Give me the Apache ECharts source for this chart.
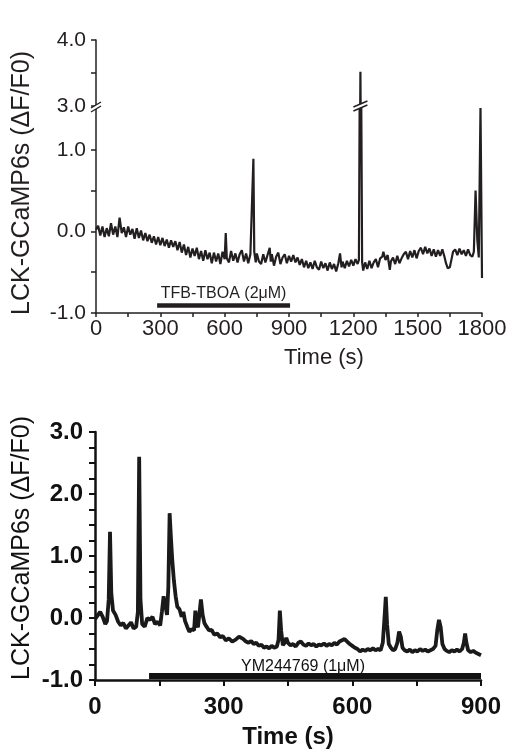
<!DOCTYPE html>
<html>
<head>
<meta charset="utf-8">
<script src="https://cdn.jsdelivr.net/npm/echarts@6.0.0/dist/echarts.min.js"></script>
<style>
html,body{margin:0;padding:0;background:#fff;}
#chart{width:516px;height:754px;}
</style>
</head>
<body>
<div id="chart"></div>
<script>
// ---------- Panel A (TFB-TBOA) ----------
const topTime = [0,10,20,30,40,50,60,70,80,90,100,110,120,130,140,150,160,170,180,190,
200,210,220,230,240,250,260,270,280,290,300,310,320,330,340,350,360,370,380,390,
400,410,420,430,440,450,460,470,480,490,500,510,520,530,540,550,560,570,580,590,
600,605,610,620,630,640,650,660,670,680,690,700,710,720,728,734,738,745,750,760,
770,780,790,800,810,815,820,830,840,850,860,870,880,890,900,910,920,930,940,950,
960,970,980,990,1000,1010,1020,1030,1040,1050,1060,1070,1080,1090,1100,1110,1120,1130,1138,1145,
1150,1160,1170,1180,1190,1200,1210,1220,1226,1233,1241,1246,1255,1265,1275,1285,1295,1305,1315,1325,
1335,1340,1350,1360,1370,1375,1385,1395,1405,1415,1425,1435,1445,1455,1465,1475,1485,1495,1505,1515,
1525,1535,1545,1555,1565,1575,1585,1595,1605,1615,1625,1632,1640,1650,1658,1665,1675,1685,1695,1705,
1715,1725,1735,1745,1755,1762,1770,1778,1785,1793,1800];
const topSignal = [0.02,0.07,-0.05,0.06,-0.07,0.04,-0.06,0.10,-0.04,0.06,-0.07,0.17,-0.02,0.05,-0.07,0.06,-0.04,0.03,-0.09,0.04,
-0.08,0.01,-0.11,-0.02,-0.12,-0.04,-0.14,-0.06,-0.16,-0.07,-0.17,-0.08,-0.18,-0.10,-0.20,-0.11,-0.19,-0.12,-0.23,-0.13,
-0.26,-0.16,-0.29,-0.19,-0.32,-0.21,-0.30,-0.20,-0.34,-0.24,-0.36,-0.23,-0.34,-0.26,-0.39,-0.26,-0.37,-0.27,-0.40,-0.25,
-0.34,-0.02,-0.33,-0.38,-0.24,-0.36,-0.27,-0.38,-0.28,-0.23,-0.37,-0.27,-0.39,-0.28,-0.30,0.89,-0.25,-0.38,-0.27,-0.37,
-0.40,-0.28,-0.38,-0.29,-0.20,-0.37,-0.28,-0.42,-0.31,-0.26,-0.40,-0.32,-0.28,-0.39,-0.30,-0.37,-0.29,-0.38,-0.32,-0.41,
-0.34,-0.44,-0.36,-0.45,-0.38,-0.46,-0.36,-0.44,-0.47,-0.37,-0.45,-0.39,-0.48,-0.38,-0.46,-0.40,-0.49,-0.39,-0.27,-0.44,
-0.37,-0.45,-0.36,-0.43,-0.35,-0.42,-0.34,-0.40,-0.35,3.52,-0.38,-0.48,-0.38,-0.46,-0.36,-0.45,-0.38,-0.34,-0.44,-0.33,
-0.31,-0.25,-0.35,-0.29,-0.47,-0.37,-0.32,-0.40,-0.30,-0.39,-0.33,-0.28,-0.25,-0.34,-0.24,-0.32,-0.23,-0.33,-0.24,-0.20,
-0.28,-0.19,-0.27,-0.21,-0.30,-0.22,-0.31,-0.23,-0.30,-0.22,-0.31,-0.39,-0.45,-0.44,-0.34,-0.25,-0.22,-0.29,-0.21,-0.28,
-0.23,-0.30,-0.22,-0.29,-0.31,-0.25,0.50,-0.10,-0.32,1.52,-0.57];
const topDrug = 'TFB-TBOA (2\u03bcM)';
const topDrugSpan = [285, 905];
const topDrugLevel = -0.91;

// ---------- Panel B (YM244769) ----------
const botTime = [0,5,12,18,24,28,32,35,38,42,48,54,60,66,72,78,84,90,96,100,
103,106,110,116,122,128,134,140,146,152,156,160,164,168,171,174,177,180,184,188,
192,197,202,206,210,215,220,225,231,234,237,240,244,247,251,255,260,266,272,278,
285,292,298,305,312,320,328,336,340,346,352,358,364,370,376,382,388,394,400,406,
412,418,424,428,431,434,438,442,446,450,456,462,468,474,480,486,492,498,504,510,
516,522,528,534,540,546,552,558,564,570,576,582,588,594,600,606,612,618,624,630,
636,642,648,654,660,666,671,675,678,681,685,690,695,700,705,709,713,717,722,728,
734,740,746,752,758,764,770,776,782,788,794,798,802,806,810,815,820,826,832,838,
844,850,856,860,863,866,870,876,882,888,894,900];
const botSignal = [-0.02,0.03,0.10,0.02,-0.10,-0.05,0.30,1.39,0.40,0.12,0.05,-0.06,-0.12,-0.08,-0.17,-0.12,-0.07,-0.17,-0.14,0.10,
2.60,0.30,-0.10,-0.14,0.00,-0.03,0.02,-0.10,-0.06,-0.12,0.10,0.35,0.20,0.05,0.50,1.69,1.30,0.95,0.60,0.35,
0.18,0.14,0.02,0.10,-0.05,-0.14,-0.22,-0.18,-0.20,0.12,-0.10,-0.15,0.10,0.30,0.05,-0.08,-0.14,-0.20,-0.19,-0.27,
-0.25,-0.31,-0.29,-0.36,-0.33,-0.38,-0.35,-0.30,-0.27,-0.34,-0.38,-0.40,-0.37,-0.42,-0.40,-0.45,-0.43,-0.48,-0.46,-0.49,
-0.45,-0.48,-0.46,-0.35,0.12,-0.20,-0.44,-0.40,-0.32,-0.40,-0.44,-0.42,-0.46,-0.40,-0.38,-0.43,-0.45,-0.41,-0.44,-0.42,
-0.46,-0.43,-0.44,-0.41,-0.45,-0.42,-0.44,-0.40,-0.43,-0.38,-0.36,-0.34,-0.38,-0.42,-0.45,-0.48,-0.50,-0.54,-0.51,-0.53,
-0.50,-0.52,-0.49,-0.52,-0.50,-0.52,-0.40,0.00,0.34,-0.10,-0.42,-0.48,-0.52,-0.50,-0.40,-0.22,-0.30,-0.48,-0.52,-0.54,
-0.51,-0.55,-0.52,-0.54,-0.50,-0.53,-0.51,-0.54,-0.52,-0.50,-0.45,-0.20,-0.03,-0.15,-0.42,-0.50,-0.53,-0.55,-0.52,-0.54,
-0.51,-0.54,-0.50,-0.40,-0.25,-0.40,-0.52,-0.55,-0.53,-0.56,-0.58,-0.60];
const botDrug = 'YM244769 (1\u03bcM)';
const botDrugSpan = [126, 900];
const botDrugLevel = -0.935;

const yTitle = 'LCK-GCaMP6s (\u0394F/F0)';
const xTitle = 'Time (s)';

// ---------- build ----------
const pair = (t, v) => t.map((x, i) => [x, v[i]]);
const topData = pair(topTime, topSignal);
const botData = pair(botTime, botSignal);
const FONT = 'Liberation Sans, Arial, Helvetica, sans-serif';
const intLabel = v => Math.abs(v - Math.round(v)) < 1e-6 ? (Math.round(v) === 0 ? '0.0' : v.toFixed(1)) : '';
const topC = '#231f20', botC = '#111';

const chart = echarts.init(document.getElementById('chart'), null, {renderer: 'canvas'});

const topYLabel = {color: topC, fontFamily: FONT, fontSize: 21, margin: 10, formatter: intLabel, hideOverlap: false};
const topTick = {length: 5, lineStyle: {color: topC, width: 1.5}};

const option = {
  animation: false,
  backgroundColor: '#fff',
  grid: [
    {left: 96, width: 386, top: 40, height: 66, outerBoundsMode: 'none'},
    {left: 96, width: 386, top: 109, height: 204, outerBoundsMode: 'none'},
    {left: 95, width: 386, top: 432, height: 248, outerBoundsMode: 'none'}
  ],
  xAxis: [
    {gridIndex: 0, type: 'value', min: 0, max: 1800, show: false},
    {gridIndex: 1, type: 'value', min: 0, max: 1800, interval: 150,
     axisLine: {onZero: false, lineStyle: {color: topC, width: 1.5}},
     axisTick: {length: 4, lineStyle: {color: topC, width: 1.5}},
     splitLine: {show: false},
     axisLabel: {color: topC, fontFamily: FONT, fontSize: 22, margin: 5, hideOverlap: false,
       formatter: v => (v % 300 === 0 ? String(v) : '')}},
    {gridIndex: 2, type: 'value', min: 0, max: 900, interval: 150,
     axisLine: {onZero: false, lineStyle: {color: botC, width: 2.5}},
     axisTick: {length: 6, lineStyle: {color: botC, width: 2}},
     splitLine: {show: false},
     axisLabel: {color: botC, fontFamily: FONT, fontSize: 24, fontWeight: 'bold', margin: 15, hideOverlap: false,
       formatter: v => (v % 300 === 0 ? String(v) : '')}}
  ],
  yAxis: [
    {gridIndex: 0, type: 'value', min: 3, max: 4, interval: 0.5,
     axisLine: {show: true, onZero: false, lineStyle: {color: topC, width: 1.5}}, axisTick: topTick,
     splitLine: {show: false}, axisLabel: topYLabel},
    {gridIndex: 1, type: 'value', min: -1, max: 1.5, interval: 0.5,
     axisLine: {show: true, onZero: false, lineStyle: {color: topC, width: 1.5}}, axisTick: topTick,
     splitLine: {show: false}, axisLabel: topYLabel},
    {gridIndex: 2, type: 'value', min: -1, max: 3, interval: 0.25,
     axisLine: {show: true, onZero: false, lineStyle: {color: botC, width: 2.5}},
     axisTick: {length: 6, lineStyle: {color: botC, width: 2}},
     splitLine: {show: false},
     axisLabel: {color: botC, fontFamily: FONT, fontSize: 24, fontWeight: 'bold', margin: 12, formatter: intLabel, hideOverlap: false}}
  ],
  series: [
    {type: 'line', xAxisIndex: 0, yAxisIndex: 0, data: topData, showSymbol: false, clip: true,
     lineStyle: {color: topC, width: 2.2}},
    {type: 'line', xAxisIndex: 1, yAxisIndex: 1, data: topData, showSymbol: false, clip: true,
     lineStyle: {color: topC, width: 2.2},
     markLine: {silent: true, symbol: 'none', animation: false,
       lineStyle: {color: topC, width: 4.5, type: 'solid'},
       label: {show: true, position: 'insideMiddleTop', distance: 4, formatter: topDrug,
         color: topC, fontFamily: FONT, fontSize: 16},
       data: [[{coord: [topDrugSpan[0], topDrugLevel]}, {coord: [topDrugSpan[1], topDrugLevel]}]]}},
    {type: 'line', xAxisIndex: 2, yAxisIndex: 2, data: botData, showSymbol: false, clip: true,
     lineStyle: {color: '#1a1a1a', width: 3.8},
     markLine: {silent: true, symbol: 'none', animation: false,
       lineStyle: {color: botC, width: 6, type: 'solid'},
       label: {show: true, position: 'insideMiddleTop', distance: 1, offset: [-12, 0], formatter: botDrug,
         color: botC, fontFamily: FONT, fontSize: 16},
       data: [[{coord: [botDrugSpan[0], botDrugLevel]}, {coord: [botDrugSpan[1], botDrugLevel]}]]}}
  ]
};
chart.setOption(option);

// axis titles and break marks
const a = chart.convertToPixel({xAxisIndex: 0, yAxisIndex: 0}, [0, 3]);
let peakIdx = 0;
topSignal.forEach((v, i) => { if (v > topSignal[peakIdx]) peakIdx = i; });
const s = chart.convertToPixel({xAxisIndex: 0, yAxisIndex: 0}, [topTime[peakIdx], 3]);
const topMid = chart.convertToPixel({xAxisIndex: 1, yAxisIndex: 1}, [900, -1]);
const botMid = chart.convertToPixel({xAxisIndex: 2, yAxisIndex: 2}, [450, -1]);

function breakMark(cx, cy, w) {
  return [
    {type: 'polygon', shape: {points: [[cx - w, cy + 3], [cx + w, cy - 3], [cx + w, cy + 1], [cx - w, cy + 7]]},
     style: {fill: '#fff'}, z: 100},
    {type: 'line', shape: {x1: cx - w, y1: cy + 3, x2: cx + w, y2: cy - 3}, style: {stroke: topC, lineWidth: 1.4}, z: 101},
    {type: 'line', shape: {x1: cx - w, y1: cy + 7, x2: cx + w, y2: cy + 1}, style: {stroke: topC, lineWidth: 1.4}, z: 101}
  ];
}

chart.setOption({
  graphic: [
    {type: 'text', x: 22, y: 183, rotation: Math.PI / 2,
     style: {text: yTitle, fontFamily: FONT, fontSize: 25, fill: topC, align: 'center', verticalAlign: 'middle'}},
    {type: 'text', x: 22, y: 548, rotation: Math.PI / 2,
     style: {text: yTitle, fontFamily: FONT, fontSize: 25, fill: botC, align: 'center', verticalAlign: 'middle'}},
    {type: 'text', x: topMid[0] + 35, y: topMid[1] + 45,
     style: {text: xTitle, fontFamily: FONT, fontSize: 22, fill: topC, align: 'center', verticalAlign: 'middle'}},
    {type: 'text', x: botMid[0], y: botMid[1] + 57,
     style: {text: xTitle, fontFamily: FONT, fontSize: 24, fontWeight: 'bold', fill: botC, align: 'center', verticalAlign: 'middle'}},
    ...breakMark(a[0], a[1] - 1, 5),
    ...breakMark(s[0], s[1] - 2, 7)
  ]
});
</script>
</body>
</html>
